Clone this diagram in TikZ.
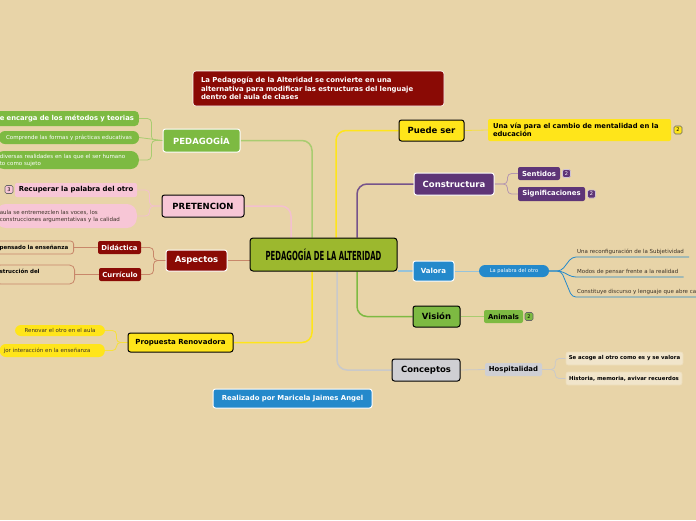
\documentclass[tikz,border=0pt]{standalone}
\usepackage{fontspec}
\setmainfont{DejaVu Sans}
\newfontfamily\titlefont[FakeStretch=0.55]{DejaVu Sans}
\usepackage{xcolor}
\usetikzlibrary{positioning,backgrounds,calc}

\definecolor{bgtan}{RGB}{232,212,168}
\definecolor{olive}{RGB}{156,184,46}
\definecolor{leafgreen}{RGB}{125,186,66}
\definecolor{darkred}{RGB}{138,10,5}
\definecolor{softpink}{RGB}{247,198,214}
\definecolor{sunyellow}{RGB}{255,229,26}
\definecolor{plum}{RGB}{94,53,119}
\definecolor{seablue}{RGB}{36,137,203}
\definecolor{mistgray}{RGB}{207,207,211}
\definecolor{ln_green}{RGB}{169,204,112}
\definecolor{ln_pink}{RGB}{243,192,207}
\definecolor{ln_brown}{RGB}{200,135,106}
\definecolor{ln_yellow}{RGB}{246,224,60}
\definecolor{ln_plum}{RGB}{181,151,176}
\definecolor{ln_blue}{RGB}{150,195,218}
\definecolor{ln_gray}{RGB}{201,201,202}
\definecolor{leaftext}{RGB}{60,50,40}

\begin{document}
\begin{tikzpicture}[
    x=1pt, y=-1pt,
    core/.style={rectangle, draw=black, line width=1pt, rounded corners=3pt, fill=olive, minimum width=147pt, minimum height=33pt, inner sep=0pt, font=\titlefont\bfseries\fontsize{12.5}{14}\selectfont},
    note/.style={rectangle, fill=darkred, draw=white, line width=0.6pt, rounded corners=3pt, text=white, text width=235pt, inner xsep=8pt, minimum height=35pt, align=left, font=\bfseries\fontsize{6.9}{8.5}\selectfont},
    topic/.style={rectangle, rounded corners=2.5pt, line width=1pt, inner sep=0pt, align=center, font=\bfseries\fontsize{8.5}{10}\selectfont},
    sub/.style={rectangle, rounded corners=2pt, inner sep=0pt, align=center, font=\bfseries\fontsize{6.9}{8}\selectfont},
    leaf/.style={rectangle, rounded corners=6pt, inner xsep=4pt, inner ysep=0pt, align=left, font=\fontsize{5.5}{7}\selectfont},
    badge/.style={rectangle, rounded corners=1.5pt, line width=0.6pt, minimum size=8pt, inner sep=0pt, font=\fontsize{5}{5}\selectfont},
    uline/.style={rectangle, inner xsep=5pt, inner ysep=2.5pt, text=leaftext, font=\fontsize{5.5}{6.5}\selectfont},
    main/.style={line width=1.5pt, rounded corners=10pt},
    link/.style={line width=0.8pt, rounded corners=4pt}
]

\useasboundingbox (0,0) rectangle (696,520);
\clip (0,0) rectangle (696,520);

% Central topic and note
\node[core] (alteridad) at (323.5,254.5) {PEDAGOGÍA DE LA ALTERIDAD};
\node[note] (nota) at (318.5,88.5) {La Pedagogía de la Alteridad se convierte en una\\alternativa para modificar las estructuras del lenguaje\\dentro del aula de clases};

% 1. Pedagogia
\node[topic, fill=leafgreen, draw=white, text=white, minimum width=77pt, minimum height=23pt] (pedagogia) at (201.5,140.5) {PEDAGOGÍA};
\node[leaf, fill=leafgreen, text=white, anchor=east, text width=135pt, minimum height=15pt, rounded corners=4pt, font=\bfseries\fontsize{6.8}{8}\selectfont] (ped_metodos) at (139,118.5) {e encarga de los métodos y teorias};
\node[leaf, fill=leafgreen, text=white, minimum width=140pt, minimum height=13pt, align=center] (ped_formas) at (69,137.5) {Comprende las formas y prácticas educativas};
\node[leaf, fill=leafgreen, text=white, anchor=east, text width=135pt, minimum height=18pt, rounded corners=8pt] (ped_realidades) at (139,160) {diversas realidades en las que el ser humano\\to como sujeto};

% 2. Pretencion
\node[topic, fill=softpink, draw=black, minimum width=82pt, minimum height=22pt] (pretencion) at (203,206) {PRETENCION};
\node[sub, fill=softpink, minimum width=122pt, minimum height=14pt] (pre_palabra) at (76,190) {Recuperar la palabra del otro};
\node[badge, fill=softpink, draw=black!60] (pre_badge) at (9,189.5) {3};
\node[leaf, fill=softpink, text=leaftext, anchor=east, text width=133pt, minimum height=24pt, rounded corners=10pt] (pre_voces) at (137,216) {aula se entremezclen las voces, los\\construcciones argumentativas y la calidad};

% 3. Aspectos
\node[topic, fill=darkred, draw=white, text=white, minimum width=61pt, minimum height=21pt] (aspectos) at (196.5,260.5) {Aspectos};
\node[sub, fill=darkred, text=white, minimum width=43pt, minimum height=13pt] (didactica) at (119.5,247.5) {Didáctica};
\node[sub, fill=darkred, text=white, minimum width=42pt, minimum height=13pt] (curriculo) at (120,274.5) {Currículo};
\node[leaf, draw=ln_brown, line width=0.8pt, rounded corners=3pt, anchor=east, text width=70pt, minimum height=13pt, font=\bfseries\fontsize{5.5}{7}\selectfont] (did_ensenanza) at (74,247.5) {pensado la enseñanza};
\node[leaf, draw=ln_brown, line width=0.8pt, rounded corners=5pt, anchor=east, text width=71pt, minimum height=19pt, font=\bfseries\fontsize{5.5}{7}\selectfont] (cur_construccion) at (75,274.5) {strucción del\\\mbox{}};

% 4. Propuesta
\node[topic, fill=sunyellow, draw=black, minimum width=105pt, minimum height=19pt, font=\bfseries\fontsize{7}{8}\selectfont] (propuesta) at (180.5,342.5) {Propuesta Renovadora};
\node[leaf, fill=sunyellow, text=leaftext, minimum width=90pt, minimum height=11pt, align=center] (pro_renovar) at (60,330.5) {Renovar el otro en el aula};
\node[leaf, fill=sunyellow, text=leaftext, anchor=east, text width=97pt, minimum height=13pt] (pro_interaccion) at (105,350.5) {jor interacción en la enseñanza};

% 5. Autora
\node[topic, fill=seablue, draw=white, text=white, minimum width=159pt, minimum height=19pt, font=\bfseries\fontsize{6.9}{8}\selectfont] (autora) at (292.5,398.5) {Realizado por Maricela Jaimes Angel};

% 6. Puede ser
\node[topic, fill=sunyellow, draw=black, minimum width=65pt, minimum height=21pt] (puede_ser) at (431.5,130.5) {Puede ser};
\node[sub, fill=sunyellow, text width=173pt, inner xsep=5pt, minimum height=22pt, align=left, font=\bfseries\fontsize{6.8}{8}\selectfont] (ps_via) at (579.5,130) {Una vía para el cambio de mentalidad en la\\educación};
\node[badge, fill=sunyellow, draw=black!60] (ps_badge) at (678,130) {2};

% 7. Constructura
\node[topic, fill=plum, draw=white, text=white, minimum width=80pt, minimum height=22pt] (constructura) at (454,184) {Constructura};
\node[sub, fill=plum, text=white, minimum width=42pt, minimum height=13pt] (sentidos) at (539,173.5) {Sentidos};
\node[badge, fill=plum, draw=white!70!plum, text=white] (sen_badge) at (566.5,173.5) {2};
\node[sub, fill=plum, text=white, minimum width=67pt, minimum height=14pt] (significaciones) at (551.5,194) {Significaciones};
\node[badge, fill=plum, draw=white!70!plum, text=white] (sig_badge) at (591.5,194) {2};

% 8. Valora
\node[topic, fill=seablue, draw=white, text=white, minimum width=41pt, minimum height=20pt, font=\bfseries\fontsize{7}{8}\selectfont] (valora) at (433.5,271) {Valora};
\node[leaf, fill=seablue, text=white, minimum width=70pt, minimum height=12pt, align=center, font=\fontsize{5.1}{6}\selectfont] (palabra_otro) at (514,271) {La palabra del otro};
\node[uline, anchor=south west] (val_subjetividad) at (572,257) {Una reconfiguración de la Subjetividad};
\node[uline, anchor=south west] (val_modos) at (572,277) {Modos de pensar frente a la realidad};
\node[uline, anchor=south west] (val_discurso) at (572,297) {Constituye discurso y lenguaje que abre ca};

% 9. Vision
\node[topic, fill=leafgreen, draw=black, minimum width=47pt, minimum height=21pt] (vision) at (436.5,316.5) {Visión};
\node[sub, fill=leafgreen, minimum width=39pt, minimum height=13pt] (animals) at (503.5,316.5) {Animals};
\node[badge, fill=leafgreen, draw=black!60] (ani_badge) at (529,316.5) {2};

% 10. Conceptos
\node[topic, fill=mistgray, draw=black, minimum width=68pt, minimum height=22pt] (conceptos) at (426,370) {Conceptos};
\node[sub, fill=mistgray, minimum width=57pt, minimum height=13pt] (hospitalidad) at (513.5,369.5) {Hospitalidad};
\node[sub, fill=bgtan!60!white, draw=bgtan!80!white, line width=0.6pt, minimum width=117pt, minimum height=13pt, font=\bfseries\fontsize{5.4}{6}\selectfont] (hos_acoge) at (624.5,358.5) {Se acoge al otro como es y se valora};
\node[sub, fill=bgtan!60!white, draw=bgtan!80!white, line width=0.6pt, minimum width=116pt, minimum height=13pt, font=\bfseries\fontsize{5.4}{6}\selectfont] (hos_historia) at (624,378.5) {Historia, memoria, avivar recuerdos};

% Connectors
\begin{scope}[on background layer]
    \fill[bgtan] (0,0) rectangle (696,520);
    \draw[main, ln_green] ([xshift=-11.5pt]alteridad.north) |- (pedagogia.east);
    \draw[main, sunyellow] ([xshift=12.5pt]alteridad.north) |- (puede_ser.west);
    \draw[main, plum!85] ([xshift=33.5pt]alteridad.north) |- (constructura.west);
    \draw[main, ln_pink] ([xshift=-32.5pt]alteridad.north) |- (pretencion.east);
    \draw[main, sunyellow] ([xshift=-11.5pt]alteridad.south) |- (propuesta.east);
    \draw[main, ln_gray] ([xshift=13.5pt]alteridad.south) |- (conceptos.west);
    \draw[main, leafgreen] ([xshift=33.5pt]alteridad.south) |- (vision.west);
    \draw[main, ln_brown] (aspectos.east) -- (aspectos.east -| alteridad.west);
    \draw[main, ln_blue] (valora.west -| alteridad.east) -- (valora.west);

    \draw[link, ln_green] (pedagogia.west) -- ++(-11,0) |- (ped_metodos.east);
    \draw[link, ln_green] (pedagogia.west) -- (ped_formas.east);
    \draw[link, ln_green] (pedagogia.west) -- ++(-11,0) |- (ped_realidades.east);
    \draw[link, ln_pink] (pretencion.west) -- ++(-12,0) |- (pre_palabra.east);
    \draw[link, ln_pink] (pretencion.west) -- ++(-12,0) |- (pre_voces.east);
    \draw[link, ln_brown] (aspectos.west) -- ++(-12,0) |- (didactica.east);
    \draw[link, ln_brown] (aspectos.west) -- ++(-12,0) |- (curriculo.east);
    \draw[link, ln_brown] (didactica.west) -- (did_ensenanza.east);
    \draw[link, ln_brown] (curriculo.west) -- (cur_construccion.east);
    \draw[link, ln_yellow] (propuesta.west) -- ++(-11,0) |- (pro_renovar.east);
    \draw[link, ln_yellow] (propuesta.west) -- ++(-11,0) |- (pro_interaccion.east);

    \draw[link, ln_yellow] (puede_ser.east) -- (ps_via.west);
    \draw[link, ln_plum] (constructura.east) -- ++(13,0) |- (sentidos.west);
    \draw[link, ln_plum] (constructura.east) -- ++(13,0) |- (significaciones.west);
    \draw[link, ln_blue] (valora.east) -- (palabra_otro.west);
    \draw[link, seablue] (palabra_otro.east) -- ++(12,0) -- (val_subjetividad.south west) -- (val_subjetividad.south east);
    \draw[link, seablue] (palabra_otro.east) -- ++(12,0) -- (val_modos.south west) -- (val_modos.south east);
    \draw[link, seablue] (palabra_otro.east) -- ++(12,0) -- (val_discurso.south west) -- (val_discurso.south east);
    \draw[link, ln_green] (vision.east) -- (animals.west);
    \draw[link, ln_gray] (conceptos.east) -- (hospitalidad.west);
    \draw[link, ln_gray] (hospitalidad.east) -- ++(13,0) |- (hos_acoge.west);
    \draw[link, ln_gray] (hospitalidad.east) -- ++(13,0) |- (hos_historia.west);
\end{scope}

\end{tikzpicture}
\end{document}
